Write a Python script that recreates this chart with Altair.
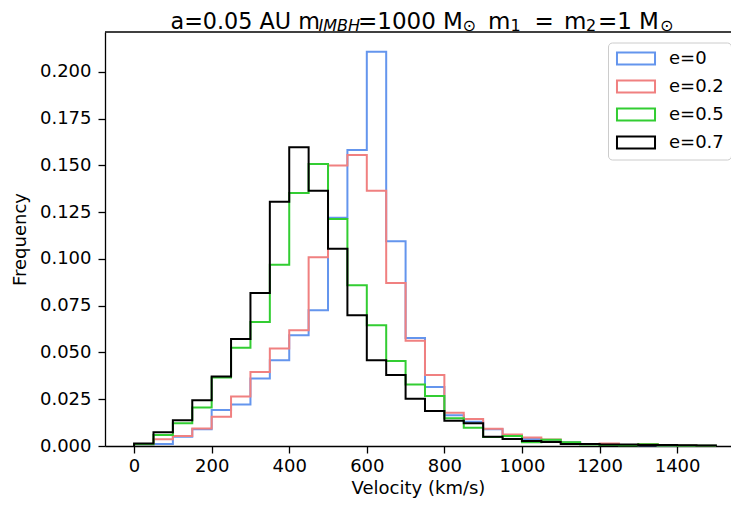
import altair as alt
import pandas as pd

# ---------------- data ----------------
bin_edges = list(range(0, 1550, 50))  # 31 edges -> 30 bins of 50 km/s
series_names = ["e=0", "e=0.2", "e=0.5", "e=0.7"]
series_colors = ["#6495ED", "#F08080", "#32CD32", "#000000"]

freq_e0 = [0.0005, 0.0011, 0.0050, 0.0089, 0.0192, 0.0222, 0.0361, 0.0459, 0.0592, 0.0725,
           0.1220, 0.1582, 0.2107, 0.1095, 0.0577, 0.0315, 0.0165, 0.0130, 0.0090, 0.0058,
           0.0037, 0.0030, 0.0020, 0.0010, 0.0008, 0.0005, 0.0004, 0.0003, 0.0002, 0.0001]
freq_e02 = [0.0008, 0.0036, 0.0053, 0.0094, 0.0157, 0.0265, 0.0395, 0.0521, 0.0619, 0.1009,
            0.1500, 0.1556, 0.1365, 0.0871, 0.0562, 0.0379, 0.0178, 0.0144, 0.0092, 0.0062,
            0.0045, 0.0035, 0.0018, 0.0009, 0.0013, 0.0006, 0.0011, 0.0004, 0.0003, 0.0002]
freq_e05 = [0.0010, 0.0059, 0.0121, 0.0206, 0.0366, 0.0525, 0.0663, 0.0969, 0.1353, 0.1508,
            0.1213, 0.0859, 0.0645, 0.0455, 0.0329, 0.0267, 0.0148, 0.0098, 0.0048, 0.0053,
            0.0020, 0.0033, 0.0020, 0.0008, 0.0005, 0.0004, 0.0009, 0.0003, 0.0002, 0.0001]
freq_e07 = [0.0013, 0.0073, 0.0137, 0.0244, 0.0372, 0.0572, 0.0818, 0.1305, 0.1597, 0.1365,
            0.1054, 0.0699, 0.0458, 0.0380, 0.0253, 0.0187, 0.0135, 0.0121, 0.0050, 0.0037,
            0.0027, 0.0022, 0.0011, 0.0011, 0.0008, 0.0008, 0.0005, 0.0005, 0.0004, 0.0003]

x_ticks = [0, 200, 400, 600, 800, 1000, 1200, 1400]
y_ticks = [0.0, 0.025, 0.05, 0.075, 0.1, 0.125, 0.15, 0.175, 0.2]

# step-outline table built from the bin values (histtype='step')
rows = []
for name, vals in zip(series_names, [freq_e0, freq_e02, freq_e05, freq_e07]):
    pts = [(bin_edges[0], 0.0)]
    pts += [(bin_edges[i], v) for i, v in enumerate(vals)]
    pts += [(bin_edges[-1], vals[-1]), (bin_edges[-1], 0.0)]
    for k, (xv, yv) in enumerate(pts):
        rows.append({"series": name, "velocity": xv, "freq": yv, "idx": k})
df = pd.DataFrame(rows)

# ---------------- layout ----------------
W, H = 626, 414
FONT = "DejaVu Sans"

color_scale = alt.Scale(domain=series_names, range=series_colors)
x_enc = alt.X("velocity:Q",
              scale=alt.Scale(domain=[-75, 1539], nice=False, zero=False),
              axis=alt.Axis(values=x_ticks, format="d", title="Velocity (km/s)", grid=False,
                            labelFontSize=18, titleFontSize=18, labelFont=FONT, titleFont=FONT,
                            titleFontWeight="normal", tickSize=7, labelPadding=4, titlePadding=4,
                            domainColor="black", tickColor="black", domainWidth=1.3, tickWidth=1.3,
                            labelColor="black", titleColor="black"))
y_enc = alt.Y("freq:Q",
              scale=alt.Scale(domain=[0, 0.2213], nice=False, zero=True),
              axis=alt.Axis(values=y_ticks, format=".3f", title="Frequency", grid=False,
                            labelFontSize=18, titleFontSize=18, labelFont=FONT, titleFont=FONT,
                            titleFontWeight="normal", tickSize=7, labelPadding=7, titlePadding=10,
                            domainColor="black", tickColor="black", domainWidth=1.3, tickWidth=1.3,
                            labelColor="black", titleColor="black"))
legend = alt.Legend(title=None, orient="none", legendX=503, legendY=10.5,
                    symbolType="M-3.17,-1L3.17,-1L3.17,1L-3.17,1Z", symbolSize=144,
                    symbolOffset=12, symbolStrokeWidth=2, symbolFillColor="transparent",
                    labelFontSize=18, labelFont=FONT, labelColor="black", labelOffset=24,
                    rowPadding=8, padding=7, strokeColor="#cccccc", fillColor="white",
                    cornerRadius=4)

base = alt.Chart(df)
lines = []
for name in series_names:
    lines.append(
        base.transform_filter(alt.datum.series == name)
        .mark_line(interpolate="step-after", strokeWidth=2)
        .encode(x=x_enc, y=y_enc,
                color=alt.Color("series:N", scale=color_scale, legend=legend),
                order=alt.Order("idx:Q"))
    )

top_spine = alt.Chart(pd.DataFrame({"a": [0]})).mark_rule(color="black", strokeWidth=1.3).encode(
    x=alt.value(0), x2=alt.value(W), y=alt.value(0))

# title pieces (text, page x of piece start, font size, baseline offset from plot top, style)
MAIN0, MAIN, SUB = 22.3, 23, 16
MB, SB = -3.2, -1.0
title_parts = [
    ("a=0.05 AU m", 170.5, MAIN0, MB, "normal"),
    ("IMBH", 318.5, SUB, SB, "italic"),
    ("=1000 M", 358, MAIN, MB, "normal"),
    ("\u2299", 462.5, SUB, SB, "normal"),
    ("m", 488, MAIN, MB, "normal"),
    ("1", 510.5, SUB, SB, "normal"),
    ("=", 534.5, MAIN, MB, "normal"),
    ("m", 564, MAIN, MB, "normal"),
    ("2", 586, SUB, SB, "normal"),
    ("=1", 598, MAIN, MB, "normal"),
    ("M", 639, MAIN, MB, "normal"),
    ("\u2299", 660, SUB, SB, "normal"),
]
PLOT_LEFT = 105
title_layers = []
for txt, px, fs, yo, st in title_parts:
    title_layers.append(
        alt.Chart(pd.DataFrame({"a": [0]})).mark_text(
            text=txt, align="left", baseline="alphabetic", fontSize=fs, font=FONT,
            fontStyle=st, color="black").encode(x=alt.value(px - PLOT_LEFT), y=alt.value(yo))
    )

chart = alt.layer(*lines, top_spine, *title_layers).properties(
    width=W, height=H,
    padding={"left": 97, "top": 24, "right": 0, "bottom": 52},
    autosize=alt.AutoSizeParams(type="none"),
).configure_view(stroke=None)

chart.save("out.html", embed_options={"renderer": "svg", "actions": False})
